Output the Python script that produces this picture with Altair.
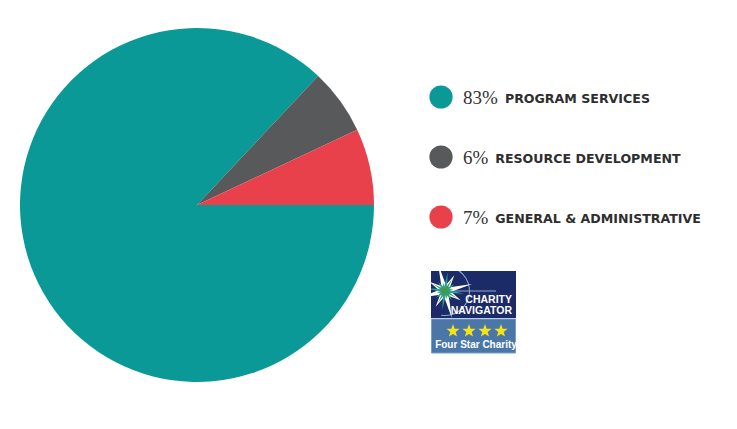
import math
import altair as alt
import pandas as pd

# ---- data ----
categories = ["PROGRAM SERVICES", "RESOURCE DEVELOPMENT", "GENERAL & ADMINISTRATIVE"]
percent_labels = ["83%", "6%", "7%"]
slice_values = [87, 6, 7]          # slice sizes as drawn in the pie
colors = ["#0a9996", "#58595b", "#e8414c"]
logo_stars = [1, 2, 3, 4]
logo_lines = ["CHARITY", "NAVIGATOR"]
logo_caption = "Four Star Charity"

W, H = 721, 413

pie_df = pd.DataFrame({"category": categories, "value": slice_values, "idx": range(len(categories))})
color_scale = alt.Scale(domain=categories, range=colors)

pie = alt.Chart(pie_df).mark_arc(radius=177).encode(
    theta=alt.Theta("value:Q", stack=True,
                    scale=alt.Scale(range=[math.pi / 2, math.pi / 2 + 2 * math.pi])),
    color=alt.Color("category:N", scale=color_scale, legend=None),
    order=alt.Order("idx:Q"),
    x=alt.value(189), y=alt.value(197),
)

leg_df = pd.DataFrame({"category": categories, "pct": percent_labels})
leg_df["lx"] = 455 + (leg_df["pct"].str.len() - 1) * 9.7 + 22.5
row_y = alt.Y("category:N", scale=alt.Scale(type="point", domain=categories, range=[89, 209], padding=0),
              axis=None)

dots = alt.Chart(leg_df).mark_point(filled=True, opacity=1, size=540, shape="circle").encode(
    x=alt.value(433), y=row_y,
    color=alt.Color("category:N", scale=color_scale, legend=None),
)
pct_text = alt.Chart(leg_df).mark_text(
    align="left", baseline="middle", font="Liberation Serif", fontSize=19, color="#333333", dy=1
).encode(x=alt.value(455), y=row_y, text="pct:N")
lab_text = alt.Chart(leg_df).mark_text(
    align="left", baseline="middle", font="DejaVu Sans", fontWeight="bold", fontSize=12.6,
    color="#2e2e2e", dy=2
).encode(x=alt.X("lx:Q", scale=None), y=row_y, text="category:N")

one = pd.DataFrame({"a": [0]})

# ---- Charity Navigator badge ----
navy = alt.Chart(one).mark_rect(color="#1b2b68").encode(
    x=alt.value(423), x2=alt.value(508), y=alt.value(263), y2=alt.value(310))
blue = alt.Chart(one).mark_rect(color="#4a77a8", stroke="#7a9cc4", strokeWidth=1).encode(
    x=alt.value(423.5), x2=alt.value(507.5), y=alt.value(311), y2=alt.value(345))

CX, CY = 437, 283
circle_arc = alt.Chart(one).mark_arc(radius=25, radius2=24, color="#8fa6cf", theta=0, theta2=3.3).encode(
    x=alt.value(CX), y=alt.value(CY))
hline = alt.Chart(one).mark_rule(color="#8fa6cf", strokeWidth=1).encode(
    x=alt.value(CX), x2=alt.value(488), y=alt.value(CY))


def star_path(n, r_out, r_in, rot=0.0):
    pts = []
    for k in range(2 * n):
        r = r_out if k % 2 == 0 else r_in
        a = rot + math.pi * k / n
        pts.append((r * math.sin(a), -r * math.cos(a)))
    return "M" + "L".join(f"{x:.3f},{y:.3f}" for x, y in pts) + "Z"


def compass_path(rot, r_mid=0.6, r_in=0.2):
    pts = []
    for k in range(16):
        if k % 4 == 0:
            r = 1.0
        elif k % 4 == 2:
            r = r_mid
        else:
            r = r_in
        a = rot + math.pi * k / 8
        pts.append((r * math.sin(a), -r * math.cos(a)))
    return "M" + "L".join(f"{x:.3f},{y:.3f}" for x, y in pts) + "Z"


compass_white = alt.Chart(one).mark_point(
    shape=compass_path(-0.25, 0.65, 0.22), filled=True, color="#ffffff", opacity=1, size=56 * 56).encode(
    x=alt.value(CX), y=alt.value(CY))
compass_teal = alt.Chart(one).mark_point(
    shape=compass_path(-0.25 + math.pi / 8, 0.6, 0.2), filled=True, color="#2aa39d", opacity=1,
    size=38 * 38).encode(x=alt.value(CX), y=alt.value(CY))
compass_green = alt.Chart(one).mark_point(
    shape=compass_path(-0.25 + math.pi / 4, 0.6, 0.2), filled=True, color="#3f9a4f", opacity=1,
    size=28 * 28).encode(x=alt.value(CX), y=alt.value(CY))

# cover the part of the compass that falls outside the badge on the left/top
mask_left = alt.Chart(one).mark_rect(color="#ffffff").encode(
    x=alt.value(390), x2=alt.value(423), y=alt.value(230), y2=alt.value(350))
mask_top = alt.Chart(one).mark_rect(color="#ffffff").encode(
    x=alt.value(390), x2=alt.value(520), y=alt.value(230), y2=alt.value(263))

logo_df = pd.DataFrame({"t": logo_lines})
logo_text = alt.Chart(logo_df).mark_text(
    align="right", baseline="middle", font="Liberation Sans", fontWeight="bold",
    fontSize=10.5, color="#ffffff"
).encode(
    x=alt.value(504),
    y=alt.Y("t:N", scale=alt.Scale(type="point", domain=logo_lines, range=[292, 303], padding=0), axis=None),
    text="t:N",
)
stars_df = pd.DataFrame({"s": logo_stars})
stars = alt.Chart(stars_df).mark_point(
    shape=star_path(5, 1.0, 0.42), filled=True, color="#f4e21a", opacity=1, size=190).encode(
    x=alt.X("s:O", scale=alt.Scale(type="point", domain=logo_stars, range=[445, 493], padding=0), axis=None),
    y=alt.value(323),
)
caption = alt.Chart(one).mark_text(
    align="center", baseline="middle", font="Liberation Sans", fontWeight="bold",
    fontSize=10, color="#ffffff", text=logo_caption
).encode(x=alt.value(468), y=alt.value(337))

chart = alt.layer(
    pie, dots, pct_text, lab_text,
    navy, blue, circle_arc, hline, compass_white, compass_teal, compass_green,
    mask_left, mask_top, logo_text, stars, caption,
).resolve_scale(x="independent", y="independent").properties(
    width=W, height=H, autosize=alt.AutoSizeParams(type="none"), padding=0, background="#ffffff",
).configure_view(strokeWidth=0, stroke=None)

chart.save("out.html", embed_options={"renderer": "svg", "actions": False})
